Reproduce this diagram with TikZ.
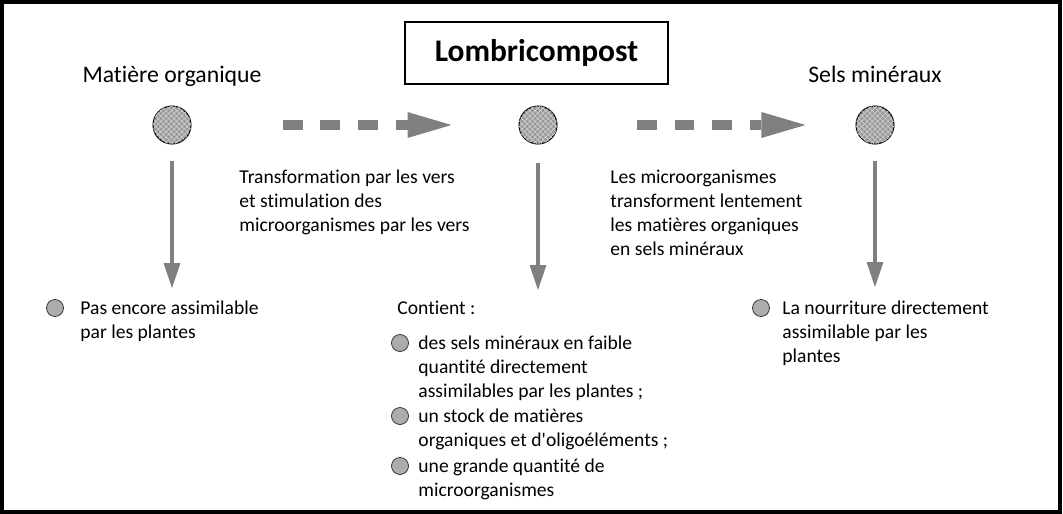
\documentclass[tikz,border=0pt]{standalone}
\usepackage{fontspec}
\setmainfont{Carlito}[Ligatures={TeX,NoCommon}]
\usetikzlibrary{arrows.meta,patterns}
\definecolor{gris}{RGB}{128,128,128}
\newcommand{\txt}{\fontsize{11.15pt}{13.66pt}\selectfont}
\newcommand{\entete}{\fontsize{13.5pt}{16pt}\selectfont}

\begin{document}
\begin{tikzpicture}[x=0.02cm, y=-0.02cm, line width=0.5pt,
  boule/.style={circle, draw=black, line width=0.6pt, minimum size=0.76cm, inner sep=0pt,
    fill=gray!80, postaction={pattern=crosshatch, pattern color=gray!40}},
  puce/.style={circle, draw=gray!30!black, line width=0.4pt, minimum size=0.34cm, inner sep=0pt, fill=gray!65},
  texte/.style={anchor=base west, inner sep=0pt, align=left, font=\txt},
  fleche/.style={gris, line width=0.08cm, -{Triangle[length=0.5cm, width=0.34cm, line width=0pt]}},
  tirets/.style={gris, line width=0.2cm, dash pattern=on 0.4cm off 0.36cm,
    -{Triangle[length=0.88cm, width=0.52cm, line width=0pt]}}]
  \useasboundingbox (0,0) rectangle (1063,514);
  \draw[line width=0.08cm] (2,2) rectangle (1060,512);
  % titre
  \node[draw, line width=0.04cm, minimum width=5.26cm, minimum height=1.24cm,
    font=\bfseries\fontsize{17.9pt}{20pt}\selectfont] (titre) at (536.5,53) {Lombricompost};
  \node[font=\entete, anchor=base] (mo-t) at (172,82) {Matière organique};
  \node[font=\entete, anchor=base] (sm-t) at (875,82) {Sels minéraux};
  % boules
  \node[boule] (mo) at (172,125) {};
  \node[boule] (lc) at (538,125) {};
  \node[boule] (sm) at (875,125) {};
  % flèches
  \draw[tirets, shorten <=1.82cm, shorten >=1.34cm] (mo) -- (lc);
  \draw[tirets, shorten <=1.58cm, shorten >=1.0cm] (lc) -- (sm);
  \coordinate (mo-b) at (172,288);
  \coordinate (lc-b) at (538,290);
  \coordinate (sm-b) at (875,287);
  \draw[fleche, shorten <=0.32cm] (mo) -- (mo-b);
  \draw[fleche, shorten <=0.36cm] (lc) -- (lc-b);
  \draw[fleche, shorten <=0.32cm] (sm) -- (sm-b);
  % textes du milieu (base = derniere ligne)
  \node[texte] (vers) at (239,231) {Transformation par les vers\\et stimulation des\\microorganismes par les vers};
  \node[texte] (micro) at (610,255) {Les microorganismes\\transforment lentement\\les matières organiques\\en sels minéraux};
  % en bas
  \node[puce] (p1) at (55,308) {};
  \node[texte] (t1) at (80,338) {Pas encore assimilable\\par les plantes};
  \node[texte] (contient) at (397,314) {Contient :};
  \node[puce] (p2) at (400,343) {};
  \node[texte] (t2) at (418,397) {des sels minéraux en faible\\quantité directement\\assimilables par les plantes ;};
  \node[puce] (p3) at (400,416) {};
  \node[texte] (t3) at (418,446) {un stock de matières\\organiques et d\textquotesingle oligoéléments ;};
  \node[puce] (p4) at (400,466) {};
  \node[texte] (t4) at (418,496) {une grande quantité de\\microorganismes};
  \node[puce] (p5) at (761,308) {};
  \node[texte] (t5) at (782,362) {La nourriture directement\\assimilable par les\\plantes};
\end{tikzpicture}
\end{document}
